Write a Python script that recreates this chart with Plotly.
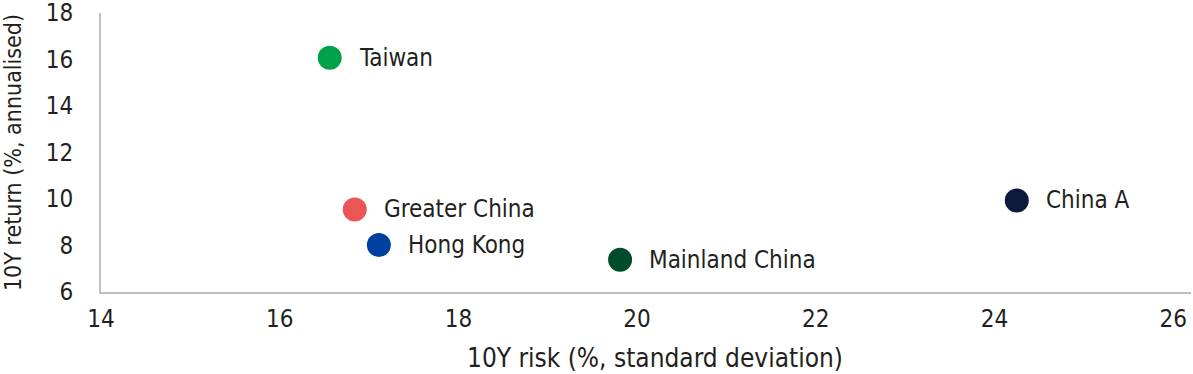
import plotly.graph_objects as go

markets = ["Taiwan", "Greater China", "Hong Kong", "Mainland China", "China A"]
risk = [16.56, 16.84, 17.11, 19.81, 24.25]
ret = [16.08, 9.55, 8.02, 7.39, 9.94]
colors = ["#00A14B", "#EC5555", "#0041A0", "#004B2A", "#0B1A3A"]

x_ticks = [14, 16, 18, 20, 22, 24, 26]
y_ticks = [6, 8, 10, 12, 14, 16, 18]
x_title = "10Y risk (%, standard deviation)"
y_title = "10Y return (%, annualised)"

FONT = "DejaVu Sans Condensed, sans-serif"
TXT = "#231F20"

fig = go.Figure()
fig.add_trace(go.Scatter(
    x=risk, y=ret, mode="markers",
    marker=dict(size=24, color=colors, line=dict(width=0)),
    hovertext=markets, showlegend=False,
))

for name, xv, yv in zip(markets, risk, ret):
    fig.add_annotation(x=xv, y=yv, text=name, showarrow=False,
                       xanchor="left", yanchor="middle", xshift=27,
                       font=dict(family=FONT, size=24, color=TXT))

# x-axis title, centred slightly right of the plot centre as in the reference
fig.add_annotation(x=0.508, y=-0.235, xref="paper", yref="paper", text=x_title,
                   showarrow=False, xanchor="center", yanchor="middle",
                   font=dict(family=FONT, size=26, color=TXT))

fig.update_layout(
    width=1193, height=374,
    margin=dict(l=101, r=2, t=13, b=82),
    paper_bgcolor="white", plot_bgcolor="white",
    font=dict(family=FONT, size=24, color=TXT),
    xaxis=dict(range=[14, 26.2], tickvals=x_ticks, showgrid=False, zeroline=False,
               showline=True, linecolor="#BFBFBF", linewidth=2, ticks="",
               ticklabelstandoff=4, automargin=False, ticklabeloverflow="allow",
               tickfont=dict(family=FONT, size=24, color=TXT)),
    yaxis=dict(range=[6, 18], tickvals=y_ticks, showgrid=False, zeroline=False,
               showline=True, linecolor="#BFBFBF", linewidth=2, ticks="",
               ticklabelstandoff=21, automargin=False, ticklabeloverflow="allow",
               tickfont=dict(family=FONT, size=24, color=TXT),
               title=dict(text=y_title, standoff=19,
                          font=dict(family=FONT, size=23, color=TXT))),
)

fig.write_html("out.html", config={"displayModeBar": False},
               post_script="document.body.style.margin='0';document.body.style.overflow='hidden';")
